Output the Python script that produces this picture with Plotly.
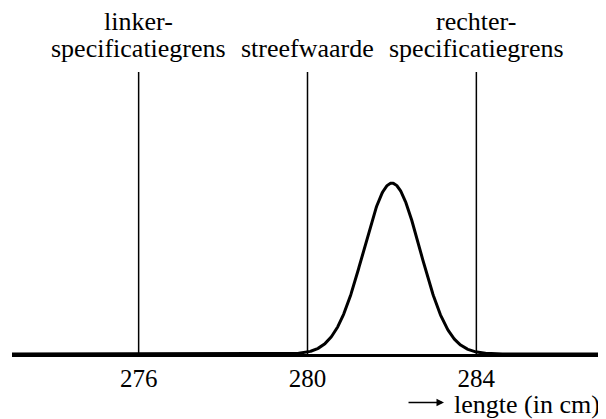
import numpy as np
import plotly.graph_objects as go

# --- data ---
limit_values = [276, 280, 284]
limit_top_lines = ["linker-", "", "rechter-"]
limit_bottom_lines = ["specificatiegrens", "streefwaarde", "specificatiegrens"]
tick_values = [276, 280, 284]
tick_labels = ["276", "280", "284"]
curve_mean = 282.0
curve_sd = 0.67
curve_peak = 0.606
x_range = [273, 287]
axis_title = "lengte (in cm)"

FONT = "Liberation Serif, Times New Roman, serif"
FS = 26

xs = np.linspace(x_range[0], x_range[1], 1200)
ys = curve_peak * np.exp(-0.5 * ((xs - curve_mean) / curve_sd) ** 2)

fig = go.Figure()
fig.add_trace(go.Scatter(x=xs, y=ys, mode="lines",
                         line=dict(color="black", width=3), hoverinfo="skip"))

for xv, top, bot in zip(limit_values, limit_top_lines, limit_bottom_lines):
    fig.add_shape(type="line", x0=xv, x1=xv, y0=0, y1=1, xref="x", yref="y",
                  line=dict(color="black", width=1.5))
    if top:
        fig.add_annotation(x=xv, y=1.178, xref="x", yref="paper", text=top,
                           showarrow=False, yanchor="middle", borderpad=0,
                           font=dict(family=FONT, size=FS, color="black"))
    fig.add_annotation(x=xv, y=1.083, xref="x", yref="paper", text=bot,
                       showarrow=False, yanchor="middle", borderpad=0,
                       font=dict(family=FONT, size=FS, color="black"))

fig.add_annotation(x=0.997, y=-0.180, xref="paper", yref="paper", text=axis_title,
                   showarrow=False, xanchor="right", yanchor="middle", borderpad=0,
                   font=dict(family=FONT, size=FS, color="black"))
fig.add_annotation(x=0.731, y=-0.172, xref="paper", yref="paper", text="",
                   showarrow=True, ax=-37, ay=0, arrowhead=2, arrowsize=1,
                   arrowwidth=1.5, arrowcolor="black")

fig.update_layout(
    width=598, height=411,
    margin=dict(l=4, r=3, t=64, b=65),
    paper_bgcolor="white", plot_bgcolor="white",
    showlegend=False,
    xaxis=dict(range=x_range, tickvals=tick_values, ticktext=tick_labels,
               showline=True, linecolor="black", linewidth=3, showgrid=False,
               zeroline=False, ticks="", ticklabelstandoff=0,
               tickfont=dict(family=FONT, size=25, color="black")),
    yaxis=dict(range=[0, 1], visible=False, showgrid=False, zeroline=False),
)

fig.write_html("out.html")
